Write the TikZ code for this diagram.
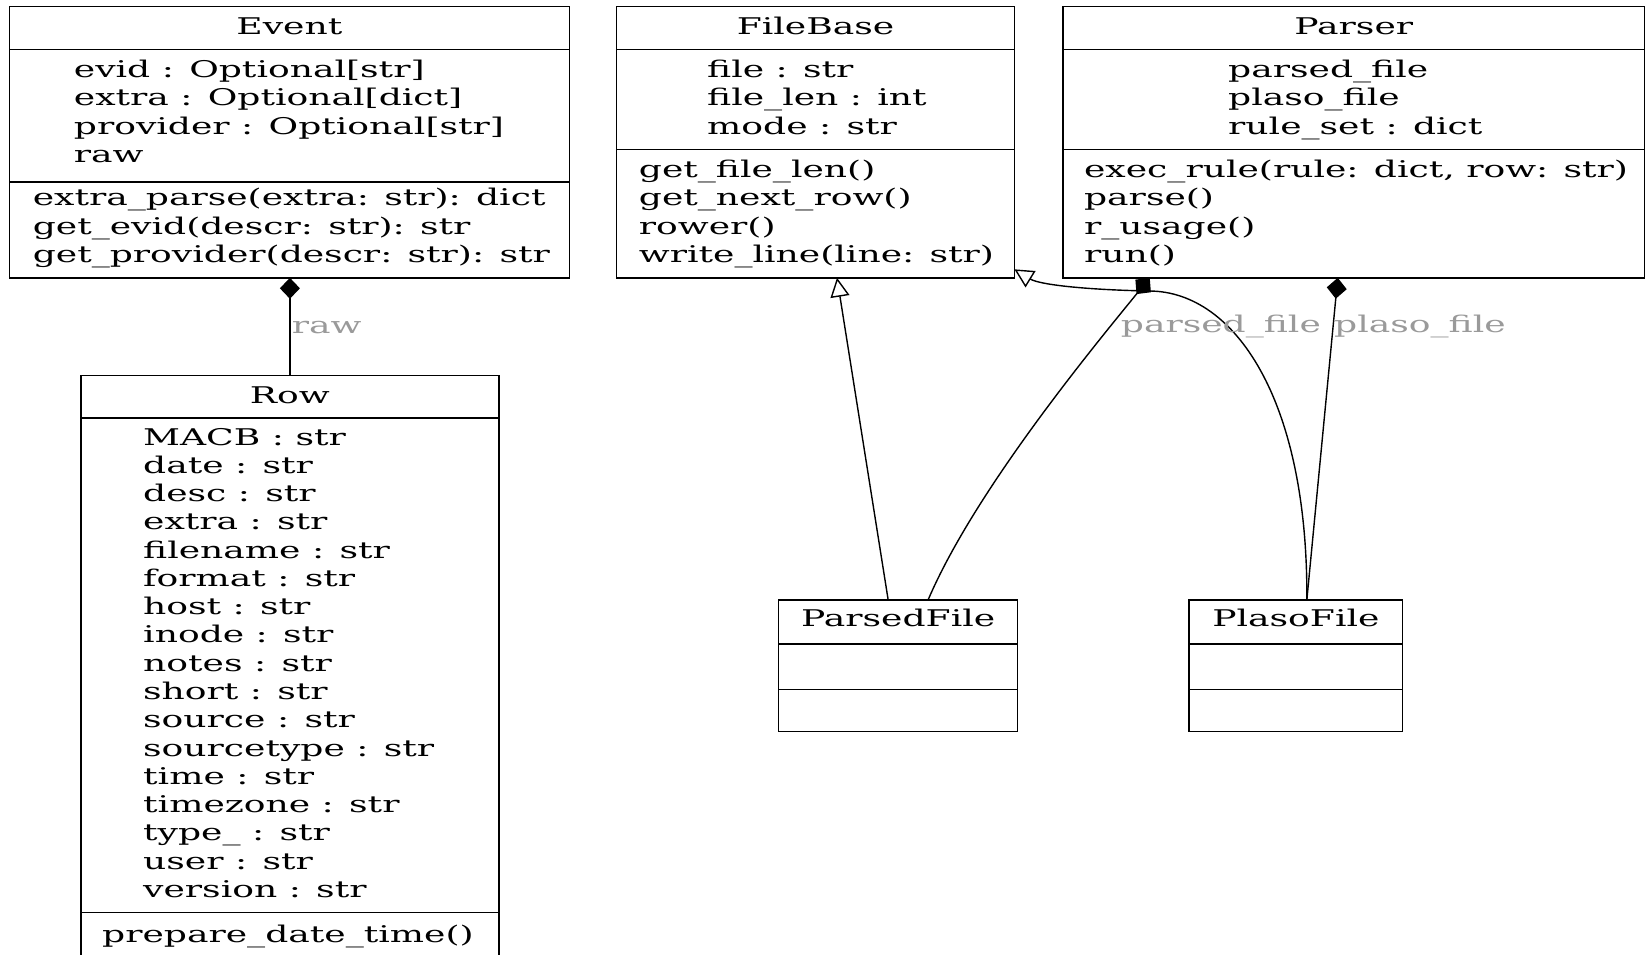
\documentclass[tikz,border=0pt]{standalone}
\usepackage{fontspec}
\usetikzlibrary{arrows.meta}
\newfontfamily\umlfont{DejaVu Serif}[FakeStretch=1.57]
\newcommand\umlsize{\umlfont\fontsize{23}{28}\selectfont}
\definecolor{labelgray}{HTML}{9A9A9A}

\begin{document}
\begin{tikzpicture}[x=1pt, y=-1pt,
  classbox/.style={draw, line width=1.5pt, rectangle, inner sep=0pt, outer sep=0pt, anchor=north west},
  divider/.style={line width=1.5pt},
  member/.style={anchor=base west, inner sep=0pt, font=\umlsize},
  classname/.style={anchor=base, inner sep=0pt, font=\umlsize},
  role/.style={anchor=base west, inner sep=0pt, font=\umlsize, text=labelgray},
  link/.style={line width=1.4pt},
  composition/.style={link, -{Diamond[length=21pt, width=20pt]}},
  generalization/.style={link, -{Triangle[open, length=19pt, width=19pt]}},
]
\useasboundingbox (0,0) rectangle (1650,954);
\clip (0,0) rectangle (1650,954);
\fill[white] (0,0) rectangle (1650,954);

% class boxes
\node[classbox, minimum width=559.8pt, minimum height=271.5pt] (event) at (9.5,6.3) {};
\node[classbox, minimum width=397.8pt, minimum height=271.5pt] (filebase) at (616.6,6.3) {};
\node[classbox, minimum width=581.9pt, minimum height=271.5pt] (parser) at (1062.8,6.3) {};
\node[classbox, minimum width=417.8pt, minimum height=620pt] (row) at (81,375.7) {};
\node[classbox, minimum width=238.9pt, minimum height=131.6pt] (parsedfile) at (778.7,599.8) {};
\node[classbox, minimum width=213.7pt, minimum height=131.6pt] (plasofile) at (1189,599.8) {};

% compartment dividers
\foreach \b/\d in {event/43.2pt, event/175.7pt, filebase/43.2pt, filebase/143.1pt,
                   parser/43.2pt, parser/143.1pt, row/42.1pt, row/536.6pt,
                   parsedfile/44.2pt, parsedfile/89.5pt, plasofile/44.2pt, plasofile/89.5pt}
  \draw[divider] ([yshift=-\d]\b.north west) -- ([yshift=-\d]\b.north east);

% class names
\node[classname] (event-name) at (289.4,34) {Event};
\node[classname] (filebase-name) at (815.5,34.5) {FileBase};
\node[classname] (parser-name) at (1353.8,34.5) {Parser};
\node[classname] (row-name) at (289.9,403) {Row};
\node[classname] (parsedfile-name) at (898.2,626.5) {ParsedFile};
\node[classname] (plasofile-name) at (1295.9,626.5) {PlasoFile};

% Event
\foreach \s [count=\i from 0] in {evid : Optional[str], extra : Optional[dict],
    provider : Optional[str], raw}
  \node[member] (event-a\i) at (73.7,{77.5+28.4*\i}) {\s};
\foreach \s [count=\i from 0] in {extra\_parse(extra: str): dict,
    get\_evid(descr: str): str, get\_provider(descr: str): str}
  \node[member] (event-m\i) at (32.6,{205.8+28.4*\i}) {\s};

% FileBase
\foreach \s [count=\i from 0] in {file : str, file\_len : int, mode : str}
  \node[member] (filebase-a\i) at (707,{77.5+28.4*\i}) {\s};
\foreach \s [count=\i from 0] in {get\_file\_len(), get\_next\_row(), rower(),
    write\_line(line: str)}
  \node[member] (filebase-m\i) at (638.7,{177.4+28.4*\i}) {\s};

% Parser
\foreach \s [count=\i from 0] in {parsed\_file, plaso\_file, rule\_set : dict}
  \node[member] (parser-a\i) at (1228,{77.5+28.4*\i}) {\s};
\foreach \s [count=\i from 0] in {{exec\_rule(rule: dict, row: str)}, parse(),
    r\_usage(), run()}
  \node[member] (parser-m\i) at (1083.9,{177.4+28.4*\i}) {\s};

% Row
\foreach \s [count=\i from 0] in {MACB : str, date : str, desc : str, extra : str,
    filename : str, format : str, host : str, inode : str, notes : str, short : str,
    source : str, sourcetype : str, time : str, timezone : str, type\_ : str,
    user : str, version : str}
  \node[member] (row-a\i) at (143,{445+28.28*\i}) {\s};
\node[member] (row-m0) at (102,942) {prepare\_date\_time()};

% relations
\draw[generalization] ([xshift=-10pt]parsedfile.north) -- ([xshift=21.5pt]filebase.south);
\draw[generalization] ([xshift=11pt]plasofile.north)
  .. controls (1308,400) and (1235,292) .. (1150,291)
  .. controls (1090,290) and (1040,285) .. ([yshift=8.5pt]filebase.south east);
\draw[composition] (row.north) -- (row.north |- event.south);
\draw[composition] ([xshift=30pt]parsedfile.north)
  .. controls (975,490) and (1095,345) .. ([xshift=-204pt]parser.south);
\draw[composition] ([xshift=11pt]plasofile.north) -- ([xshift=-16pt]parser.south);

% role labels
\node[role] (raw-label) at (291.7,333.3) {raw};
\node[role] (parsed-label) at (1120.7,332.7) {parsed\_file};
\node[role] (plaso-label) at (1334,332.7) {plaso\_file};
\end{tikzpicture}
\end{document}
